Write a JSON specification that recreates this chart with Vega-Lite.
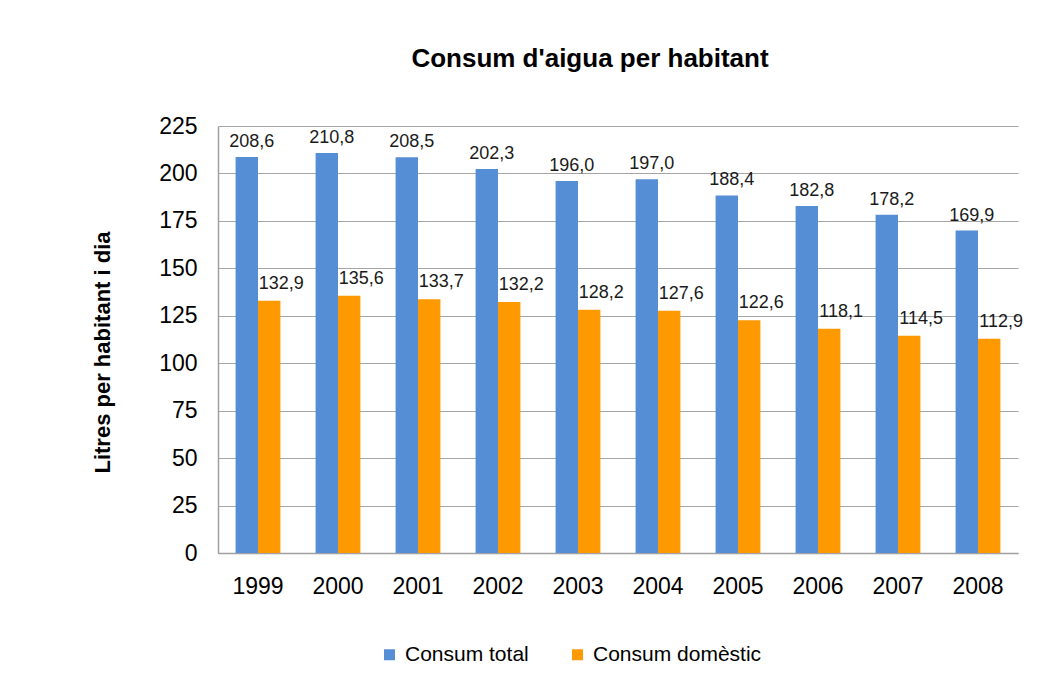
{
  "$schema": "https://vega.github.io/schema/vega-lite/v6.json",
  "width": 800,
  "height": 427,
  "autosize": {"type": "none"},
  "padding": {"left": 218, "top": 126, "right": 33, "bottom": 140},
  "background": "white",
  "config": {
    "font": "Liberation Sans",
    "view": {"stroke": null},
    "locale": {"number": {"decimal": ",", "thousands": ".", "grouping": [3], "currency": ["", " €"]}}
  },
  "title": {
    "text": "Consum d'aigua per habitant",
    "fontSize": 26,
    "fontWeight": "bold",
    "font": "Liberation Sans",
    "color": "black",
    "offset": 43,
    "dx": -28
  },
  "data": {
    "values": [
      {"year": "1999", "series": "Consum total", "value": 208.6},
      {"year": "2000", "series": "Consum total", "value": 210.8},
      {"year": "2001", "series": "Consum total", "value": 208.5},
      {"year": "2002", "series": "Consum total", "value": 202.3},
      {"year": "2003", "series": "Consum total", "value": 196.0},
      {"year": "2004", "series": "Consum total", "value": 197.0},
      {"year": "2005", "series": "Consum total", "value": 188.4},
      {"year": "2006", "series": "Consum total", "value": 182.8},
      {"year": "2007", "series": "Consum total", "value": 178.2},
      {"year": "2008", "series": "Consum total", "value": 169.9},
      {"year": "1999", "series": "Consum domèstic", "value": 132.9},
      {"year": "2000", "series": "Consum domèstic", "value": 135.6},
      {"year": "2001", "series": "Consum domèstic", "value": 133.7},
      {"year": "2002", "series": "Consum domèstic", "value": 132.2},
      {"year": "2003", "series": "Consum domèstic", "value": 128.2},
      {"year": "2004", "series": "Consum domèstic", "value": 127.6},
      {"year": "2005", "series": "Consum domèstic", "value": 122.6},
      {"year": "2006", "series": "Consum domèstic", "value": 118.1},
      {"year": "2007", "series": "Consum domèstic", "value": 114.5},
      {"year": "2008", "series": "Consum domèstic", "value": 112.9}
    ]
  },
  "encoding": {
    "x": {
      "field": "year",
      "type": "ordinal",
      "scale": {"paddingInner": 0.44, "paddingOuter": 0.22},
      "axis": {
        "title": null,
        "labelAngle": 0,
        "labelFontSize": 23,
        "labelColor": "black",
        "labelPadding": 22,
        "ticks": false,
        "domainColor": "#a0a0a0",
        "domainWidth": 1.5
      }
    },
    "xOffset": {"field": "series", "type": "nominal", "sort": ["Consum total", "Consum domèstic"]},
    "y": {
      "field": "value",
      "type": "quantitative",
      "scale": {"domain": [0, 225], "nice": false},
      "axis": {
        "title": "Litres per habitant i dia",
        "titleFontSize": 22,
        "titleFontWeight": "bold",
        "titleColor": "black",
        "titlePadding": 44,
        "titleY": 226,
        "values": [0, 25, 50, 75, 100, 125, 150, 175, 200, 225],
        "labelFontSize": 23,
        "labelColor": "black",
        "labelPadding": 21,
        "ticks": false,
        "gridColor": "#a6a6a6",
        "gridWidth": 1.2,
        "domainColor": "#a0a0a0",
        "domainWidth": 1.5
      }
    }
  },
  "layer": [
    {
      "mark": {"type": "bar"},
      "encoding": {
        "color": {
          "field": "series",
          "type": "nominal",
          "sort": ["Consum total", "Consum domèstic"],
          "scale": {"domain": ["Consum total", "Consum domèstic"], "range": ["#558ED5", "#FF9900"]},
          "legend": {
            "title": null,
            "orient": "none",
            "direction": "horizontal",
            "legendX": 161,
            "legendY": 518,
            "symbolType": "square",
            "symbolSize": 121,
            "symbolStrokeWidth": 0,
            "labelFontSize": 21,
            "labelColor": "black",
            "labelOffset": 5,
            "labelLimit": 400,
            "columnPadding": 38
          }
        }
      }
    },
    {
      "transform": [{"filter": "datum.series === 'Consum total'"}],
      "mark": {"type": "text", "baseline": "bottom", "dy": -6, "dx": 5, "fontSize": 18, "color": "#1a1a1a"},
      "encoding": {
        "text": {"field": "value", "type": "quantitative", "format": ".1f"}
      }
    },
    {
      "transform": [{"filter": "datum.series === 'Consum domèstic'"}],
      "mark": {"type": "text", "baseline": "bottom", "dy": -8, "dx": 12, "fontSize": 18, "color": "#1a1a1a"},
      "encoding": {
        "text": {"field": "value", "type": "quantitative", "format": ".1f"}
      }
    }
  ]
}
